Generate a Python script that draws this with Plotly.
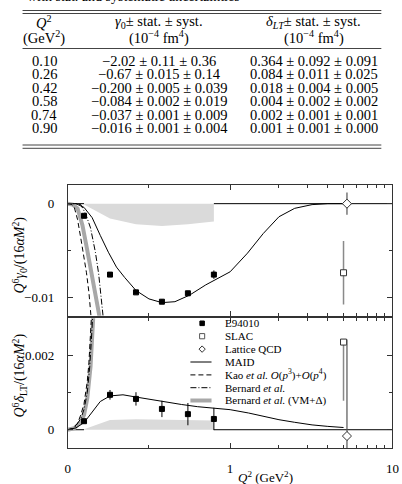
import math
import plotly.graph_objects as go

# ---------------- data ----------------
tab_q2 = ["0.10", "0.26", "0.42", "0.58", "0.74", "0.90"]
tab_gamma = ["−2.02 ± 0.11 ± 0.36", "−0.67 ± 0.015 ± 0.14", "−0.200 ± 0.005 ± 0.039",
             "−0.084 ± 0.002 ± 0.019", "−0.037 ± 0.001 ± 0.009", "−0.016 ± 0.001 ± 0.004"]
tab_delta = ["0.364 ± 0.092 ± 0.091", "0.084 ± 0.011 ± 0.025", "0.018 ± 0.004 ± 0.005",
             "0.004 ± 0.002 ± 0.002", "0.002 ± 0.001 ± 0.001", "0.001 ± 0.001 ± 0.000"]

e94_q2 = [0.10, 0.26, 0.42, 0.58, 0.74, 0.90]
e94_g = [-0.0013, -0.0076, -0.0095, -0.0105, -0.0096, -0.0076]
e94_g_err = [0.00007, 0.00015, 0.00022, 0.00025, 0.00026, 0.00045]
e94_g_band = [-0.0001, -0.0016, -0.0022, -0.0024, -0.0022, -0.0019]
e94_d = [0.00023, 0.00094, 0.00083, 0.00056, 0.00042, 0.00029]
e94_d_err = [0.00005, 0.00013, 0.00018, 0.00022, 0.00030, 0.00030]
e94_d_band = [0.00001, 0.00026, 0.00028, 0.00027, 0.00026, 0.00025]

slac_q2 = [5.0]
slac_g = [-0.0074]
slac_g_err = [0.0034]
slac_d = [0.00236]
slac_d_err = [0.00158]

lat_q2 = [5.25]
lat_g = [0.0]
lat_g_err = [0.0012]
lat_d = [-0.00017]
lat_d_err = [0.0026]

maid_g_q2 = [0, 0.05, 0.1, 0.15, 0.2, 0.25, 0.3, 0.35, 0.42, 0.5, 0.58, 0.66, 0.75, 0.85,
             1.0, 1.28, 1.6, 2.0, 2.5, 3.2, 4.0, 5.0]
maid_g = [0, 0, -0.0004, -0.0015, -0.0034, -0.0052, -0.0068, -0.0079, -0.0093, -0.0102,
          -0.0106, -0.0105, -0.0098, -0.0087, -0.0073, -0.0053, -0.0032, -0.0014, -0.0005,
          -0.0001, 0, 0]
maid_d_q2 = [0, 0.05, 0.1, 0.15, 0.2, 0.26, 0.34, 0.42, 0.5, 0.58, 0.7, 0.8, 0.9, 1.0,
             1.3, 1.6, 2.0, 2.5, 3.2, 4.0, 5.0]
maid_d = [0, 0.00005, 0.00019, 0.00048, 0.00076, 0.00091, 0.00094, 0.00088, 0.00082,
          0.00076, 0.00068, 0.00062, 0.00058, 0.00054, 0.00045, 0.00036, 0.00027, 0.00020,
          0.00013, 0.00009, 0.00006]

kao_g_q2 = [0, 0.02, 0.04, 0.06, 0.08, 0.1, 0.115, 0.13, 0.14, 0.15]
kao_g = [0, -0.00005, -0.0004, -0.0017, -0.0037, -0.0057, -0.0074, -0.0095, -0.0115, -0.0135]
kao_d_q2 = [0, 0.03, 0.06, 0.08, 0.1, 0.12, 0.13, 0.14, 0.15]
kao_d = [0, 0.00003, 0.00017, 0.0004, 0.0007, 0.0013, 0.0018, 0.0026, 0.0034]

bch_g_q2 = [0, 0.05, 0.08, 0.11, 0.14, 0.17, 0.19, 0.21, 0.22]
bch_g = [0, 0, -0.0001, -0.0011, -0.0026, -0.0052, -0.0075, -0.0105, -0.0125]
bch_d_q2 = [0, 0.04, 0.08, 0.1, 0.12, 0.135, 0.145, 0.155]
bch_d = [0, 0.00004, 0.0003, 0.00055, 0.001, 0.0017, 0.0024, 0.0032]

bvm_g_q2 = [0, 0.03, 0.06, 0.09, 0.12, 0.15, 0.18, 0.2, 0.21]
bvm_g = [0, -0.0001, -0.0005, -0.0023, -0.005, -0.0077, -0.0104, -0.0123, -0.0135]
bvm_d_q2 = [0, 0.04, 0.08, 0.1, 0.12, 0.14, 0.15, 0.16]
bvm_d = [0, 0.00004, 0.00021, 0.0004, 0.00085, 0.0017, 0.0025, 0.0033]

zero_q2 = [0, 0.1, None, 0.9, 10]
zero_v = [0, 0, None, 0, 0]

x_tick_vals = [0, 1, 10]
x_tick_text = ["0", "1", "10"]
x_minor_vals = [0.5, 2, 3, 4, 5, 6, 7, 8, 9]

legend_labels = ["E94010", "SLAC", "Lattice QCD", "MAID",
                 "Kao <i>et al.</i> <i>O</i>(<i>p</i><sup>3</sup>)+<i>O</i>(<i>p</i><sup>4</sup>)",
                 "Bernard <i>et al.</i>", "Bernard <i>et al.</i> (VM+Δ)"]


# piecewise axis: linear 0..1, logarithmic 1..10
def tx(q):
    if q is None:
        return None
    return q if q <= 1 else 1 + math.log10(q)


def T(arr):
    return [tx(v) for v in arr]


W, H = 402, 484


def PX(x):
    return x / W


def PY(y):
    return 1 - y / H


SERIF = "Liberation Serif"
FRAME = "#333333"
BAND = "#dadada"

fig = go.Figure()


def band(q, v, xa, ya):
    xs = T(q) + T(q[::-1])
    ys = v + [0] * len(q)
    fig.add_trace(go.Scatter(x=xs, y=ys, fill="toself", fillcolor=BAND, line=dict(width=0),
                             mode="lines", xaxis=xa, yaxis=ya, hoverinfo="skip"))


def line(q, v, xa, ya, color="black", width=1, dash="solid"):
    fig.add_trace(go.Scatter(x=T(q), y=v, mode="lines", xaxis=xa, yaxis=ya,
                             line=dict(color=color, width=width, dash=dash)))


def points(q, v, err, xa, ya, symbol, size, fill, lcolor, ecolor, ethick, err_minus=None):
    ey = dict(type="data", array=err, color=ecolor, thickness=ethick, width=0, visible=True)
    if err_minus is not None:
        ey.update(symmetric=False, arrayminus=err_minus)
    fig.add_trace(go.Scatter(x=T(q), y=v, mode="markers", xaxis=xa, yaxis=ya,
                             marker=dict(symbol=symbol, size=size, color=fill,
                                         line=dict(color=lcolor, width=1)),
                             error_y=ey))


# top panel (gamma_0)
band(e94_q2, e94_g_band, "x", "y")
line(zero_q2, zero_v, "x", "y")
line(bvm_g_q2, bvm_g, "x", "y", color="#a8a8a8", width=4)
line(kao_g_q2, kao_g, "x", "y", dash="5px,3px")
line(bch_g_q2, bch_g, "x", "y", dash="6px,2px,1px,2px")
line(maid_g_q2, maid_g, "x", "y")
points(slac_q2, slac_g, slac_g_err, "x", "y", "square", 6, "white", "#333", "#8a8a8a", 1.5)
points(lat_q2, lat_g, lat_g_err, "x", "y", "diamond", 7, "white", "#333", "#555", 1.2)
points(e94_q2, e94_g, e94_g_err, "x", "y", "square", 5, "black", "black", "black", 1)

# bottom panel (delta_LT)
band(e94_q2, e94_d_band, "x2", "y2")
line(zero_q2, zero_v, "x2", "y2")
line(bvm_d_q2, bvm_d, "x2", "y2", color="#a8a8a8", width=4)
line(kao_d_q2, kao_d, "x2", "y2", dash="5px,3px")
line(bch_d_q2, bch_d, "x2", "y2", dash="6px,2px,1px,2px")
line(maid_d_q2, maid_d, "x2", "y2")
points(slac_q2, slac_d, [0], "x2", "y2", "square", 6, "white", "#333", "#8a8a8a", 1.5,
       err_minus=slac_d_err)
points(lat_q2, lat_d, lat_d_err, "x2", "y2", "diamond", 7, "white", "#333", "#555", 1.2)
points(e94_q2, e94_d, e94_d_err, "x2", "y2", "square", 5, "black", "black", "black", 1)

xdom = [PX(66.3), PX(398.3)]
axis_common = dict(showline=True, linecolor=FRAME, linewidth=1, mirror="ticks",
                   ticks="inside", ticklen=5, tickcolor=FRAME, showgrid=False,
                   zeroline=False, tickfont=dict(family=SERIF, size=13, color="black"))
xcommon = dict(axis_common, range=[0, 2], domain=xdom, tickmode="array",
               tickvals=T(x_tick_vals), ticktext=x_tick_text, ticklabeloverflow="allow",
               minor=dict(tickvals=T(x_minor_vals), ticks="inside", ticklen=3,
                          tickcolor=FRAME))

fig.update_layout(
    width=W, height=H, margin=dict(l=0, r=0, t=0, b=0),
    paper_bgcolor="white", plot_bgcolor="white", showlegend=False,
    font=dict(family=SERIF),
    xaxis=dict(xcommon, anchor="y", showticklabels=False),
    yaxis=dict(axis_common, domain=[PY(315.7), PY(185)], range=[-0.012, 0.002],
               tickmode="array", tickvals=[-0.01, 0], ticktext=["−0.01", "0"],
               minor=dict(tickvals=[-0.005], ticks="inside", ticklen=3, tickcolor=FRAME),
               anchor="x", ticklabelstandoff=10),
    xaxis2=dict(xcommon, anchor="y2", ticklabelstandoff=8),
    yaxis2=dict(axis_common, domain=[PY(448.3), PY(318.3)], range=[-0.0005, 0.003],
                tickmode="array", tickvals=[0, 0.002], ticktext=["0", "0.002"],
                minor=dict(tickvals=[0.001], ticks="inside", ticklen=3, tickcolor=FRAME),
                anchor="x2", ticklabelstandoff=10),
)

ann = []
shapes = []


def text(x, y, s, size=14.5, xanchor="center", angle=0, family=SERIF):
    ann.append(dict(x=PX(x), y=PY(y), xref="paper", yref="paper", text=s, showarrow=False,
                    xanchor=xanchor, yanchor="middle", textangle=angle,
                    font=dict(family=family, size=size, color="black")))


def hline(x0, x1, y, color="#444", width=1):
    shapes.append(dict(type="line", xref="paper", yref="paper", x0=PX(x0), x1=PX(x1),
                       y0=PY(y), y1=PY(y), line=dict(color=color, width=width)))


# ---- table ----
text(22, -3, "with stat. and systematic uncertainties", size=14, xanchor="left")
hline(20, 387, 10.5)
hline(20, 387, 13.5)
text(42, 22, "<i>Q</i><sup>2</sup>")
text(42, 38, "(GeV<sup>2</sup>)")
text(160, 22, "<i>γ</i><sub>0</sub>± stat. ± syst.")
text(160, 38, "(10<sup>−4</sup> fm<sup>4</sup>)")
text(318, 22, "<i>δ</i><sub><i>LT</i></sub>± stat. ± syst.")
text(318, 38, "(10<sup>−4</sup> fm<sup>4</sup>)")
hline(20, 387, 48.5)
for i in range(len(tab_q2)):
    yy = 60.7 + i * 13.5
    text(42, yy, tab_q2[i])
    text(160, yy, tab_gamma[i])
    text(318, yy, tab_delta[i])
hline(20, 387, 145)
hline(20, 387, 148.3)

# ---- axis titles ----
text(17, 255, "<i>Q</i><sup>6</sup><i>γ</i><sub>0</sub>/(16<i>αM</i><sup>2</sup>)", size=14, angle=-90)
text(17, 376, "<i>Q</i><sup>6</sup><i>δ</i><sub>LT</sub>/(16<i>αM</i><sup>2</sup>)", size=14, angle=-90)
text(268, 477, "<i>Q</i><sup>2</sup> (GeV<sup>2</sup>)", size=13)

# ---- legend ----
ly = [323.3, 336.2, 349.1, 362, 374.9, 387.7, 400.5]
for lab, yy in zip(legend_labels, ly):
    text(225, yy, lab, size=11, xanchor="left")
# marker symbols
sq = 2.3
shapes.append(dict(type="rect", xref="paper", yref="paper", x0=PX(203.7 - sq), x1=PX(203.7 + sq),
                   y0=PY(ly[0] + sq), y1=PY(ly[0] - sq), fillcolor="black", line=dict(color="black", width=1)))
shapes.append(dict(type="rect", xref="paper", yref="paper", x0=PX(203.7 - 2.6), x1=PX(203.7 + 2.6),
                   y0=PY(ly[1] + 2.6), y1=PY(ly[1] - 2.6), fillcolor="white", line=dict(color="#555", width=1)))
cx, cy, r = 203.7, ly[2], 3.2
shapes.append(dict(type="path", xref="paper", yref="paper",
                   path=f"M {PX(cx)},{PY(cy - r)} L {PX(cx + r)},{PY(cy)} L {PX(cx)},{PY(cy + r)} L {PX(cx - r)},{PY(cy)} Z",
                   fillcolor="white", line=dict(color="#333", width=1)))
hline(191.7, 213.3, ly[3], color="black", width=1)
shapes.append(dict(type="line", xref="paper", yref="paper", x0=PX(191.7), x1=PX(213.3),
                   y0=PY(ly[4]), y1=PY(ly[4]), line=dict(color="black", width=1, dash="5px,3px")))
shapes.append(dict(type="line", xref="paper", yref="paper", x0=PX(191.7), x1=PX(213.3),
                   y0=PY(ly[5]), y1=PY(ly[5]), line=dict(color="black", width=1, dash="6px,2px,1px,2px")))
hline(191.7, 213.3, ly[6], color="#a8a8a8", width=4)

fig.update_layout(annotations=ann, shapes=shapes)
fig.write_html("out.html")
